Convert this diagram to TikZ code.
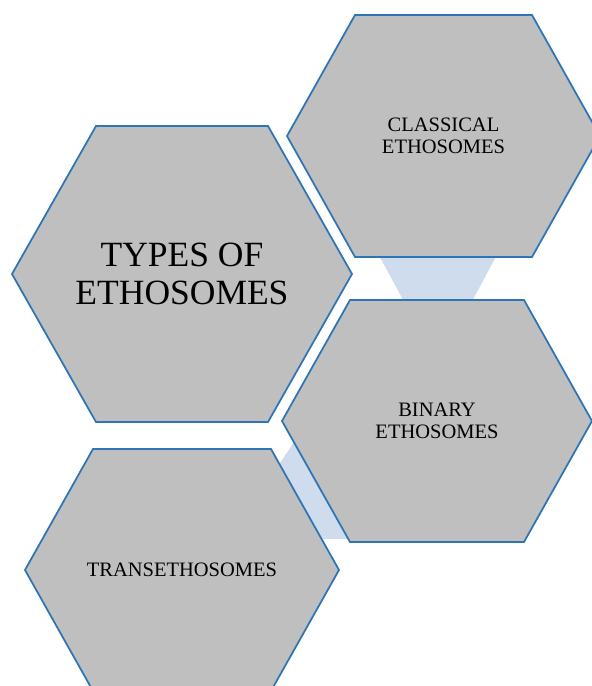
\documentclass[tikz,border=0pt]{standalone}
\usepackage{fontspec}
\setmainfont{Liberation Serif}
\usetikzlibrary{calc}
\definecolor{cellgray}{RGB}{191,191,191}
\definecolor{hexblue}{RGB}{46,117,182}
\definecolor{linkblue}{RGB}{207,220,238}
\tikzset{
  hexcell/.style={fill=cellgray, draw=hexblue, line width=1.5pt, line join=miter},
  link/.style={fill=linkblue},
  bigtext/.style={align=center, font=\fontsize{30.3}{32.3}\selectfont},
  smalltext/.style={align=center, font=\fontsize{17.5}{18.7}\selectfont}
}
\begin{document}
\begin{tikzpicture}[x=0.03cm, y=-0.03cm]
	\useasboundingbox (0,0) rectangle (592,686);
	% hexagon centres
	\coordinate (types-c) at (182,274);
	\coordinate (classical-c) at (443.5,136);
	\coordinate (binary-c) at (437,421);
	\coordinate (trans-c) at (182,570);
	
	% links behind the cells
	\fill[link] ($(classical-c)+(-67.5,114)$) -- ($(classical-c)+(56,114)$) -- ($(binary-c)+(32,-114)$) -- ($(binary-c)+(-30,-114)$) -- cycle;
	\fill[link] ($(binary-c)+(-137,12)$) -- ($(binary-c)+(-82,118)$) -- ($(trans-c)+(133,-31)$) -- ($(trans-c)+(88,-92)$) -- cycle;
	
	% cells
	\draw[hexcell] (12,274) -- (96,126) -- (268,126) -- (352,274) -- (268,422) -- (96,422) -- cycle;
	\draw[hexcell] (287,136) -- (355,15) -- (532,15) -- (600,136) -- (532,257) -- (355,257) -- cycle;
	\draw[hexcell] (282,421) -- (350,300) -- (524,300) -- (592,421) -- (524,542) -- (350,542) -- cycle;
	\draw[hexcell] (25,570) -- (93,449) -- (271,449) -- (339,570) -- (271,691) -- (93,691) -- cycle;
	
	% labels
	\node[bigtext] (types) at (types-c) {TYPES OF\\ETHOSOMES};
	\node[smalltext] (classical) at (classical-c) {CLASSICAL\\ETHOSOMES};
	\node[smalltext] (binary) at (binary-c) {BINARY\\ETHOSOMES};
	\node[smalltext] (trans) at (trans-c) {TRANSETHOSOMES};
\end{tikzpicture}
\end{document}
